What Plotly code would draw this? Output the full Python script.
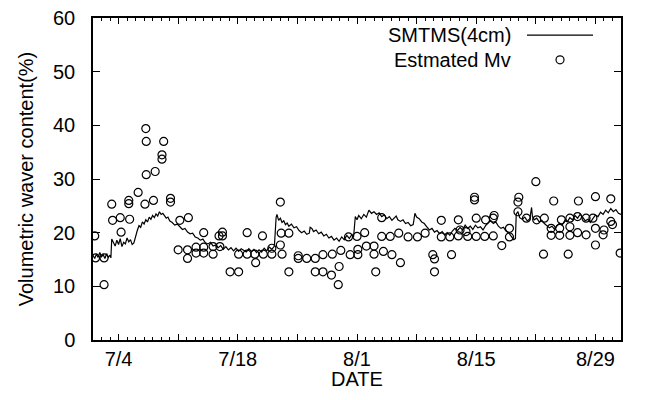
import pandas as pd
import plotly.graph_objects as go

# ---------------- data ----------------
start_date = "2001-07-01"
end_date = "2001-09-01"

# SMTMS (4cm) probe: days since 7/1 and volumetric water content (%)
smtms_days = [
    0.0, 0.2, 0.4, 0.6, 0.8, 1.0, 1.2, 1.4, 1.6, 1.8, 2.0, 2.1, 2.2, 2.4, 2.6, 2.8,
    3.0, 3.2, 3.4, 3.6, 3.8, 4.0, 4.2, 4.4, 4.6, 4.8, 5.0, 5.2, 5.4, 5.6, 5.8, 6.0,
    6.2, 6.4, 6.6, 6.8, 7.0, 7.2, 7.4, 7.6, 7.8, 8.0, 8.2, 8.4, 8.6, 8.8, 9.0, 9.3,
    9.6, 9.9, 10.2, 10.5, 10.8, 11.1, 11.4, 11.7, 12.0, 12.3, 12.6, 12.9, 13.2, 13.5,
    13.8, 14.1, 14.4, 14.7, 15.0, 15.3, 15.6, 15.9, 16.2, 16.5, 16.8, 17.1, 17.4, 17.7,
    18.0, 18.3, 18.6, 18.9, 19.2, 19.5, 19.8, 20.1, 20.4, 20.7, 21.0, 21.3, 21.4, 21.5,
    21.6, 21.8, 22.0, 22.2, 22.4, 22.6, 22.8, 23.0, 23.3, 23.6, 23.9, 24.2, 24.5, 24.8,
    25.1, 25.4, 25.5, 25.7, 25.9, 26.2, 26.5, 26.8, 27.1, 27.4, 27.7, 28.0, 28.3, 28.6,
    28.9, 29.2, 29.5, 29.8, 30.1, 30.4, 30.6, 30.8, 31.0, 31.2, 31.5, 31.8, 32.1, 32.4,
    32.7, 33.0, 33.3, 33.6, 33.9, 34.2, 34.5, 34.8, 35.1, 35.4, 35.6, 35.8, 36.1, 36.4,
    36.7, 37.0, 37.3, 37.6, 37.8, 38.0, 38.3, 38.6, 38.9, 39.2, 39.5, 39.8, 40.1, 40.4,
    40.7, 41.0, 41.3, 41.6, 41.9, 42.2, 42.5, 42.8, 43.1, 43.4, 43.7, 44.0, 44.3, 44.6,
    44.9, 45.2, 45.5, 45.8, 46.1, 46.4, 46.7, 47.0, 47.3, 47.6, 47.9, 48.2, 48.5, 48.8,
    49.1, 49.4, 49.6, 49.7, 49.9, 50.1, 50.4, 50.7, 51.0, 51.3, 51.5, 51.6, 51.8, 52.1,
    52.4, 52.7, 53.0, 53.3, 53.6, 53.9, 54.2, 54.5, 54.8, 55.1, 55.4, 55.7, 56.0, 56.3,
    56.6, 56.9, 57.2, 57.5, 57.8, 58.1, 58.4, 58.7, 59.0, 59.3, 59.6, 59.9, 60.2, 60.5,
    60.8, 61.1, 61.4, 61.7, 62.0,
]
smtms_vals = [
    15.8, 15.2, 16.0, 15.4, 16.3, 15.5, 15.9, 15.2, 16.1, 15.4, 15.8, 15.3, 18.8, 18.2, 17.5, 18.6,
    17.8, 18.9, 17.4, 18.2, 17.9, 19.0, 18.3, 18.7, 17.8, 18.1, 19.5, 20.4, 21.3, 21.0, 22.0, 21.6,
    22.4, 22.0, 22.9, 22.5, 23.2, 22.8, 23.5, 23.1, 23.9, 23.4, 23.6, 23.0, 22.7, 22.9, 22.2, 21.9,
    21.4, 21.6, 21.0, 20.6, 20.8, 20.1, 19.8, 19.9, 19.2, 19.0, 18.6, 18.8, 18.1, 17.9,
    18.2, 17.5, 17.7, 17.2, 17.6, 16.9, 17.4, 16.8, 17.2, 16.6, 17.1, 16.5, 17.0, 16.7,
    16.4, 17.0, 16.5, 16.9, 16.3, 16.8, 16.4, 17.1, 16.6, 17.3, 16.9, 17.5, 21.0, 22.8,
    23.4, 22.3, 22.7, 21.9, 22.2, 21.5, 21.8, 21.2, 21.6, 20.9, 21.1, 20.4, 20.0, 20.3,
    19.7, 19.9, 21.0, 20.8, 20.2, 20.5, 19.8, 20.1, 19.4, 19.7, 19.0, 19.3, 18.6, 19.0,
    18.4, 19.2, 18.7, 19.5, 18.9, 19.7, 19.2, 23.0, 22.4, 23.2, 22.6, 23.4, 22.9, 24.2,
    23.6, 23.9, 23.4, 23.7, 23.0, 23.3, 22.6, 23.0, 22.3, 22.7, 23.1, 22.4, 22.1, 22.4,
    21.7, 21.9, 21.3, 21.5, 23.6, 22.9, 22.6, 22.0, 21.7, 21.1, 20.5, 20.8, 20.1, 20.4,
    19.8, 20.2, 19.6, 20.0, 19.5, 20.3, 20.8, 20.4, 21.0, 20.5, 21.4, 20.8, 21.2, 20.6,
    21.4, 20.9, 21.1, 20.5, 21.3, 21.8, 22.3, 21.7, 22.0, 21.2, 20.8, 21.0, 20.3, 20.0,
    19.4, 18.7, 18.9, 23.5, 23.9, 22.8, 22.5, 22.9, 22.2, 22.6, 24.7, 23.0, 22.4, 22.7,
    22.0, 22.3, 21.7, 21.3, 20.9, 21.2, 20.6, 21.3, 21.8, 21.4, 22.3, 22.0, 22.8, 22.4,
    23.2, 22.7, 23.4, 22.9, 22.2, 22.5, 21.9, 22.6, 23.3, 23.0, 23.8, 23.4, 24.2, 23.7,
    24.5, 23.9, 24.3, 23.6, 23.4,
]

# Estimated Mv: days since 7/1 and value (%)
est_days = [
    0.2, 0.3, 1.3, 1.3, 2.2, 2.3, 3.2, 3.3, 4.2, 4.2, 4.3, 5.3, 6.1, 6.2, 6.25, 6.25,
    7.1, 7.3, 8.1, 8.1, 8.3, 9.1, 9.1, 10.0, 10.2, 11.1, 11.1, 11.2, 12.1, 12.1, 13.0, 13.0,
    13.0, 14.1, 14.1, 14.8, 14.9, 15.2, 15.2, 16.1, 17.1, 17.1, 18.1, 18.1, 19.0, 19.1,
    19.9, 20.0, 21.0, 21.0, 22.0, 22.0, 22.1, 22.2, 23.0, 23.0, 24.1, 24.1, 25.1, 26.1,
    26.1, 27.0, 27.0, 28.0, 28.1, 28.8, 28.9, 29.1, 30.0, 30.2, 31.0, 31.1, 31.1, 31.9,
    32.1, 33.0, 33.0, 33.2, 33.9, 33.9, 34.1, 34.9, 35.1, 35.9, 36.1, 37.0, 38.1, 39.0,
    39.9, 40.1, 40.1, 40.9, 40.9, 41.9, 42.1, 42.9, 42.9, 43.1, 43.8, 44.0, 44.8, 44.8,
    45.0, 45.0, 46.0, 46.1, 47.0, 47.1, 47.0, 48.0, 48.9, 48.9, 49.9, 49.9, 50.0, 50.9,
    52.0, 52.1, 52.9, 53.0, 53.8, 53.8, 54.1, 54.8, 54.8, 55.0, 55.8, 56.0, 56.0, 56.0,
    56.9, 56.9, 57.0, 57.9, 57.9, 58.7, 59.0, 59.0, 59.0, 59.9, 60.0, 60.8, 60.8, 61.0,
    61.9,
]
est_vals = [
    19.4, 15.3, 15.3, 10.3, 25.3, 22.3, 22.8, 20.1, 26.0, 25.4, 22.5, 27.5, 25.3, 39.4, 37.0, 30.8,
    26.0, 31.4, 34.5, 33.7, 37.0, 26.4, 25.7, 16.8, 22.3, 16.8, 15.2, 22.8, 17.3, 16.2, 20.0, 17.3,
    16.2, 17.4, 16.0, 19.4, 17.4, 20.1, 19.4, 12.7, 16.0, 12.7, 20.0, 16.0, 16.0, 14.4,
    19.4, 16.0, 16.0, 17.1, 25.7, 17.7, 19.9, 16.0, 19.9, 12.7, 15.7, 15.2, 15.2, 15.2,
    12.7, 15.9, 12.7, 12.1, 16.0, 10.3, 13.7, 16.7, 19.2, 15.9, 19.3, 16.9, 15.9, 20.0,
    17.5, 17.5, 16.0, 12.7, 22.8, 19.3, 16.5, 19.3, 15.9, 19.9, 14.4, 19.2, 19.2, 19.9,
    15.9, 15.1, 12.7, 22.3, 19.2, 19.2, 15.9, 22.4, 19.4, 20.5, 20.2, 19.3, 26.6, 26.1,
    22.7, 19.3, 19.3, 22.4, 22.7, 23.2, 19.4, 17.6, 20.8, 19.2, 25.7, 23.9, 26.6, 22.7,
    29.5, 22.4, 16.0, 22.7, 19.5, 20.8, 25.9, 19.5, 20.8, 22.4, 16.0, 22.7, 19.5, 21.1,
    23.0, 20.0, 25.9, 22.7, 19.6, 22.7, 26.7, 20.8, 17.7, 19.6, 20.5, 26.3, 22.1, 21.5,
    16.2,
]

tick_dates = ["2001-07-04", "2001-07-11", "2001-07-18", "2001-07-25", "2001-08-01",
              "2001-08-08", "2001-08-15", "2001-08-22", "2001-08-29"]
tick_labels = ["7/4", "", "7/18", "", "8/1", "", "8/15", "", "8/29"]

y_ticks = [0, 10, 20, 30, 40, 50, 60]

series_names = ["SMTMS(4cm)", "Estmated Mv"]
x_title = "DATE"
y_title = "Volumetric waver content(%)"

# ---------------- figure ----------------
base = pd.Timestamp(start_date)
smtms_x = base + pd.to_timedelta(smtms_days, unit="D")
est_x = base + pd.to_timedelta(est_days, unit="D")

FONT = "Liberation Sans, Arial, Helvetica, sans-serif"

fig = go.Figure()
fig.add_trace(go.Scatter(
    x=smtms_x, y=smtms_vals, mode="lines", name=series_names[0],
    line=dict(color="black", width=1.2), showlegend=False,
))
fig.add_trace(go.Scatter(
    x=est_x, y=est_vals, mode="markers", name=series_names[1],
    marker=dict(symbol="circle-open", size=8, color="black", line=dict(width=1.2)),
    showlegend=False,
))

# gnuplot-style key: text on the left, sample on the right
key_text_x = 0.795
fig.add_annotation(x=key_text_x, y=0.947, xref="paper", yref="paper", text=series_names[0],
                   showarrow=False, xanchor="right", yanchor="middle",
                   font=dict(family=FONT, size=20, color="black"))
fig.add_annotation(x=key_text_x, y=0.870, xref="paper", yref="paper", text=series_names[1],
                   showarrow=False, xanchor="right", yanchor="middle",
                   font=dict(family=FONT, size=20, color="black"))
fig.add_shape(type="line", xref="paper", yref="paper", x0=0.822, x1=0.947, y0=0.947, y1=0.947,
              line=dict(color="black", width=1.2))
fig.add_shape(type="circle", xref="paper", yref="paper", xsizemode="pixel", ysizemode="pixel",
              xanchor=0.8845, yanchor=0.870, x0=-4, x1=4, y0=-4, y1=4,
              line=dict(color="black", width=1.2))

# x-axis title placed like the original
fig.add_annotation(x=0.5, y=-0.12, xref="paper", yref="paper", text=x_title,
                   showarrow=False, xanchor="center", yanchor="middle",
                   font=dict(family=FONT, size=20, color="black"))

fig.update_layout(
    width=637, height=392,
    margin=dict(l=85, r=24, t=10, b=60),
    paper_bgcolor="white", plot_bgcolor="white",
    font=dict(family=FONT, size=20, color="black"),
    showlegend=False,
)
fig.update_xaxes(
    type="date", range=[start_date, end_date],
    tickmode="array", tickvals=tick_dates, ticktext=tick_labels,
    ticks="inside", ticklen=6, tickwidth=1, tickcolor="black",
    minor=dict(ticks="inside", ticklen=3, tickwidth=1, tickcolor="black",
               tick0=start_date, dtick=86400000, showgrid=False),
    showline=True, linewidth=1.5, linecolor="black", mirror="allticks",
    showgrid=False, zeroline=False,
    ticklabelstandoff=0, ticklabeloverflow="allow",
    automargin=False,
)
fig.update_yaxes(
    range=[0, 60], tickmode="array", tickvals=y_ticks,
    ticks="inside", ticklen=7, tickwidth=1, tickcolor="black",
    showline=True, linewidth=1.5, linecolor="black", mirror="allticks",
    showgrid=False, zeroline=False,
    ticklabelstandoff=12, ticklabeloverflow="allow",
    title=dict(text=y_title, standoff=14, font=dict(size=20)),
    automargin=False,
)

fig.write_html("out.html")
